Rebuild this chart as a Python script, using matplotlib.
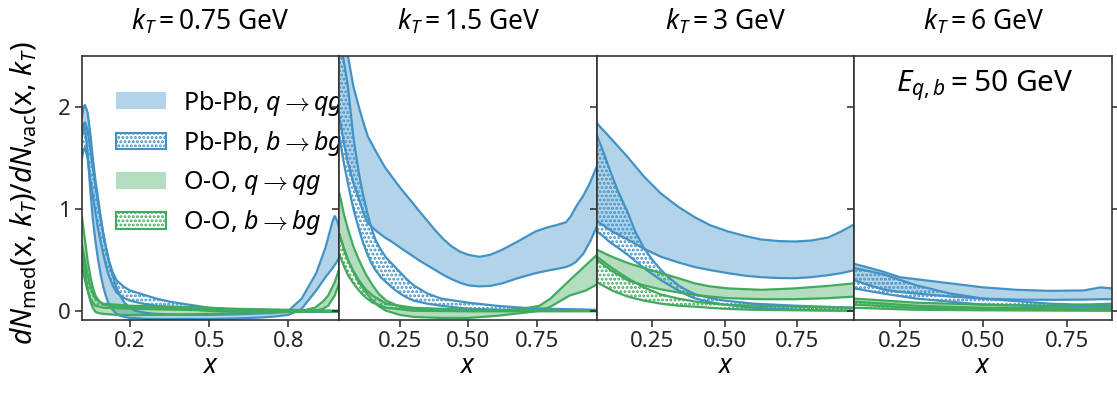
import matplotlib
matplotlib.use("Agg")
import matplotlib.pyplot as plt
from matplotlib.patches import Patch

plt.rcParams['font.family'] = ['Noto Sans', 'DejaVu Sans']
plt.rcParams['mathtext.fontset'] = 'custom'
plt.rcParams['mathtext.rm'] = 'Noto Sans'
plt.rcParams['mathtext.it'] = 'Noto Sans:italic'
plt.rcParams['mathtext.bf'] = 'Noto Sans:bold'
plt.rcParams['hatch.linewidth'] = 1.4

BLUE = '#4292c6'
GREEN = '#41ab5d'

titles = ['$k_T = 0.75$ GeV', '$k_T = 1.5$ GeV', '$k_T = 3$ GeV', '$k_T = 6$ GeV']
xlims = [(0.019, 0.993), (0.029, 0.97), (0.058, 0.95), (0.115, 0.884)]
xticks = [[0.2, 0.5, 0.8], [0.25, 0.50, 0.75], [0.25, 0.50, 0.75], [0.25, 0.50, 0.75]]
xticklabels = [['0.2', '0.5', '0.8'], ['0.25', '0.50', '0.75'],
               ['0.25', '0.50', '0.75'], ['0.25', '0.50', '0.75']]

# ---------------- kT = 0.75 GeV ----------------
p1_pbq_x = [0.019, 0.025, 0.03, 0.04, 0.05, 0.06, 0.07, 0.08, 0.09, 0.10, 0.11, 0.12, 0.135, 0.15, 0.165, 0.18, 0.20, 0.22, 0.26, 0.30, 0.40, 0.50, 0.60, 0.70, 0.75, 0.80, 0.85, 0.905, 0.94, 0.967, 0.975, 0.985, 0.993]
p1_pbq_hi = [1.90, 2.00, 2.02, 1.95, 1.75, 1.50, 1.28, 1.10, 0.92, 0.75, 0.62, 0.50, 0.35, 0.22, 0.14, 0.08, 0.03, 0.00, -0.02, -0.03, -0.04, -0.04, -0.035, -0.025, -0.02, 0.00, 0.12, 0.37, 0.62, 0.88, 0.93, 0.88, 0.80]
p1_pbq_lo = [1.70, 1.80, 1.80, 1.55, 1.20, 0.90, 0.68, 0.50, 0.35, 0.23, 0.14, 0.07, 0.01, -0.03, -0.05, -0.06, -0.07, -0.07, -0.08, -0.08, -0.08, -0.08, -0.075, -0.065, -0.055, -0.04, 0.02, 0.20, 0.33, 0.42, 0.45, 0.49, 0.53]
p1_pbb_x = [0.019, 0.025, 0.03, 0.04, 0.05, 0.065, 0.08, 0.09, 0.10, 0.11, 0.12, 0.135, 0.15, 0.175, 0.20, 0.25, 0.30, 0.35, 0.40, 0.50, 0.60, 0.70, 0.80, 0.90, 0.993]
p1_pbb_hi = [1.75, 1.83, 1.85, 1.78, 1.60, 1.32, 1.05, 0.90, 0.75, 0.62, 0.50, 0.38, 0.30, 0.24, 0.20, 0.16, 0.12, 0.09, 0.07, 0.03, 0.01, 0.00, 0.00, 0.00, 0.00]
p1_pbb_lo = [1.50, 1.58, 1.60, 1.50, 1.30, 1.05, 0.80, 0.67, 0.55, 0.44, 0.35, 0.25, 0.18, 0.13, 0.10, 0.07, 0.05, 0.03, 0.02, 0.00, -0.01, -0.01, -0.01, -0.01, -0.01]
p1_ooq_x = [0.019, 0.025, 0.03, 0.04, 0.05, 0.06, 0.07, 0.085, 0.10, 0.15, 0.30, 0.50, 0.70, 0.85, 0.90, 0.93, 0.95, 0.975, 0.993]
p1_ooq_hi = [0.92, 0.80, 0.70, 0.50, 0.35, 0.23, 0.15, 0.09, 0.06, 0.04, 0.03, 0.02, 0.01, 0.00, 0.03, 0.09, 0.15, 0.28, 0.42]
p1_ooq_lo = [0.60, 0.48, 0.40, 0.22, 0.10, 0.03, -0.01, -0.025, -0.03, -0.04, -0.04, -0.03, -0.02, -0.01, 0.00, 0.02, 0.05, 0.15, 0.28]
p1_oob_x = [0.019, 0.025, 0.03, 0.04, 0.05, 0.06, 0.07, 0.085, 0.10, 0.20, 0.40, 0.60, 0.80, 0.993]
p1_oob_hi = [0.65, 0.57, 0.50, 0.36, 0.25, 0.17, 0.12, 0.09, 0.07, 0.05, 0.04, 0.02, 0.01, 0.00]
p1_oob_lo = [0.45, 0.37, 0.30, 0.20, 0.12, 0.08, 0.05, 0.04, 0.03, 0.02, 0.01, 0.00, -0.005, -0.01]

# ---------------- kT = 1.5 GeV ----------------
p2_pbq_x = [0.029, 0.045, 0.06, 0.08, 0.10, 0.115, 0.133, 0.165, 0.195, 0.225, 0.256, 0.287, 0.317, 0.348, 0.379, 0.41, 0.44, 0.47, 0.50, 0.54, 0.58, 0.624, 0.68, 0.746, 0.79, 0.82, 0.857, 0.875, 0.893, 0.92, 0.945, 0.97]
p2_pbq_hi = [3.10, 2.75, 2.50, 2.20, 2.00, 1.86, 1.71, 1.55, 1.41, 1.30, 1.19, 1.09, 0.99, 0.89, 0.79, 0.70, 0.63, 0.58, 0.55, 0.53, 0.55, 0.60, 0.68, 0.78, 0.82, 0.84, 0.87, 0.93, 1.02, 1.13, 1.26, 1.42]
p2_pbq_lo = [1.90, 1.65, 1.45, 1.25, 1.10, 0.97, 0.86, 0.78, 0.72, 0.67, 0.61, 0.555, 0.50, 0.45, 0.40, 0.35, 0.31, 0.275, 0.25, 0.24, 0.245, 0.27, 0.32, 0.37, 0.395, 0.41, 0.43, 0.45, 0.48, 0.56, 0.68, 0.83]
p2_pbb_x = [0.029, 0.045, 0.06, 0.07, 0.08, 0.09, 0.10, 0.115, 0.13, 0.145, 0.16, 0.18, 0.20, 0.225, 0.25, 0.275, 0.30, 0.35, 0.40, 0.50, 0.60, 0.70, 0.80, 0.97]
p2_pbb_hi = [2.70, 2.45, 2.20, 1.95, 1.70, 1.52, 1.35, 1.14, 0.97, 0.82, 0.70, 0.60, 0.52, 0.45, 0.38, 0.31, 0.25, 0.17, 0.12, 0.08, 0.05, 0.03, 0.02, 0.01]
p2_pbb_lo = [1.70, 1.45, 1.25, 1.12, 1.00, 0.90, 0.80, 0.67, 0.56, 0.47, 0.40, 0.33, 0.28, 0.22, 0.17, 0.13, 0.10, 0.07, 0.05, 0.02, 0.01, 0.00, 0.00, 0.00]
p2_ooq_x = [0.029, 0.045, 0.06, 0.08, 0.10, 0.125, 0.15, 0.175, 0.20, 0.25, 0.30, 0.40, 0.50, 0.60, 0.70, 0.76, 0.80, 0.87, 0.93, 0.97]
p2_ooq_hi = [1.15, 0.95, 0.80, 0.63, 0.50, 0.36, 0.25, 0.16, 0.10, 0.04, 0.02, 0.00, 0.00, 0.00, 0.02, 0.05, 0.12, 0.30, 0.45, 0.55]
p2_ooq_lo = [0.75, 0.60, 0.50, 0.38, 0.28, 0.18, 0.10, 0.04, 0.00, -0.04, -0.06, -0.07, -0.07, -0.05, -0.02, 0.00, 0.04, 0.15, 0.20, 0.26]
p2_oob_x = [0.029, 0.045, 0.06, 0.08, 0.10, 0.125, 0.15, 0.20, 0.30, 0.50, 0.70, 0.97]
p2_oob_hi = [0.75, 0.62, 0.50, 0.39, 0.30, 0.21, 0.15, 0.07, 0.03, 0.01, 0.005, 0.00]
p2_oob_lo = [0.55, 0.44, 0.35, 0.27, 0.20, 0.13, 0.08, 0.03, 0.00, -0.005, -0.005, -0.005]

# ---------------- kT = 3 GeV ----------------
p3_pbq_x = [0.058, 0.11, 0.164, 0.22, 0.28, 0.34, 0.396, 0.45, 0.511, 0.57, 0.627, 0.685, 0.743, 0.80, 0.859, 0.905, 0.95]
p3_pbq_hi = [1.84, 1.68, 1.51, 1.32, 1.15, 1.02, 0.92, 0.84, 0.78, 0.735, 0.70, 0.685, 0.68, 0.69, 0.72, 0.78, 0.85]
p3_pbq_lo = [0.88, 0.78, 0.70, 0.61, 0.53, 0.475, 0.43, 0.40, 0.37, 0.345, 0.33, 0.322, 0.32, 0.33, 0.35, 0.37, 0.40]
p3_pbb_x = [0.058, 0.08, 0.10, 0.13, 0.164, 0.19, 0.22, 0.25, 0.28, 0.31, 0.34, 0.37, 0.40, 0.45, 0.50, 0.60, 0.75, 0.95]
p3_pbb_hi = [1.72, 1.56, 1.40, 1.18, 0.97, 0.78, 0.62, 0.50, 0.40, 0.32, 0.25, 0.20, 0.16, 0.125, 0.10, 0.07, 0.05, 0.03]
p3_pbb_lo = [0.78, 0.73, 0.68, 0.62, 0.55, 0.49, 0.42, 0.36, 0.30, 0.25, 0.20, 0.155, 0.12, 0.085, 0.06, 0.03, 0.01, 0.00]
p3_ooq_x = [0.058, 0.11, 0.164, 0.22, 0.28, 0.34, 0.396, 0.45, 0.511, 0.627, 0.743, 0.859, 0.95]
p3_ooq_hi = [0.60, 0.53, 0.47, 0.42, 0.37, 0.32, 0.27, 0.24, 0.22, 0.206, 0.22, 0.245, 0.27]
p3_ooq_lo = [0.50, 0.39, 0.30, 0.25, 0.21, 0.18, 0.157, 0.14, 0.124, 0.114, 0.114, 0.124, 0.14]
p3_oob_x = [0.058, 0.11, 0.164, 0.22, 0.28, 0.34, 0.40, 0.50, 0.60, 0.75, 0.95]
p3_oob_hi = [0.53, 0.42, 0.32, 0.23, 0.16, 0.12, 0.09, 0.06, 0.05, 0.04, 0.03]
p3_oob_lo = [0.28, 0.20, 0.14, 0.10, 0.07, 0.05, 0.04, 0.02, 0.01, 0.005, 0.00]

# ---------------- kT = 6 GeV ----------------
p4_pbq_x = [0.115, 0.15, 0.20, 0.25, 0.30, 0.40, 0.50, 0.60, 0.70, 0.80, 0.85, 0.884]
p4_pbq_hi = [0.46, 0.43, 0.385, 0.33, 0.31, 0.27, 0.23, 0.206, 0.196, 0.20, 0.23, 0.22]
p4_pbq_lo = [0.30, 0.26, 0.21, 0.185, 0.17, 0.14, 0.12, 0.11, 0.108, 0.11, 0.114, 0.114]
p4_pbb_x = [0.115, 0.20, 0.30, 0.40, 0.50, 0.70, 0.884]
p4_pbb_hi = [0.42, 0.36, 0.25, 0.17, 0.12, 0.07, 0.05]
p4_pbb_lo = [0.22, 0.17, 0.12, 0.09, 0.06, 0.045, 0.04]
p4_ooq_x = [0.115, 0.30, 0.50, 0.70, 0.884]
p4_ooq_hi = [0.12, 0.08, 0.06, 0.05, 0.07]
p4_ooq_lo = [0.06, 0.03, 0.02, 0.02, 0.02]
p4_oob_x = [0.115, 0.30, 0.50, 0.884]
p4_oob_hi = [0.09, 0.05, 0.03, 0.02]
p4_oob_lo = [0.03, 0.01, 0.005, 0.00]

panels = [
    [(p1_pbq_x, p1_pbq_lo, p1_pbq_hi), (p1_pbb_x, p1_pbb_lo, p1_pbb_hi),
     (p1_ooq_x, p1_ooq_lo, p1_ooq_hi), (p1_oob_x, p1_oob_lo, p1_oob_hi)],
    [(p2_pbq_x, p2_pbq_lo, p2_pbq_hi), (p2_pbb_x, p2_pbb_lo, p2_pbb_hi),
     (p2_ooq_x, p2_ooq_lo, p2_ooq_hi), (p2_oob_x, p2_oob_lo, p2_oob_hi)],
    [(p3_pbq_x, p3_pbq_lo, p3_pbq_hi), (p3_pbb_x, p3_pbb_lo, p3_pbb_hi),
     (p3_ooq_x, p3_ooq_lo, p3_ooq_hi), (p3_oob_x, p3_oob_lo, p3_oob_hi)],
    [(p4_pbq_x, p4_pbq_lo, p4_pbq_hi), (p4_pbb_x, p4_pbb_lo, p4_pbb_hi),
     (p4_ooq_x, p4_ooq_lo, p4_ooq_hi), (p4_oob_x, p4_oob_lo, p4_oob_hi)],
]
series_colors = [BLUE, BLUE, GREEN, GREEN]
series_hatched = [False, True, False, True]
labels = [r'Pb-Pb, $q\rightarrow qg$', r'Pb-Pb, $b\rightarrow bg$',
          r'O-O, $q\rightarrow qg$', r'O-O, $b\rightarrow bg$']

fig, axes = plt.subplots(1, 4, figsize=(11.17, 3.98), dpi=100, sharey=True)
fig.subplots_adjust(left=0.0734, right=0.9955, bottom=0.196, top=0.859, wspace=0)

for i, ax in enumerate(axes):
    for (x, lo, hi), c, h in zip(panels[i], series_colors, series_hatched):
        if h:
            ax.fill_between(x, lo, hi, facecolor='none', edgecolor=c, hatch='....', linewidth=0)
        else:
            ax.fill_between(x, lo, hi, color=c, alpha=0.4, linewidth=0)
        ax.plot(x, lo, color=c, lw=1.6)
        ax.plot(x, hi, color=c, lw=1.6)
    ax.set_xlim(*xlims[i])
    ax.set_ylim(-0.09, 2.5)
    ax.set_xticks(xticks[i])
    ax.set_xticklabels(xticklabels[i])
    ax.set_yticks([0, 1, 2])
    ax.tick_params(direction='out', length=5, width=1.1, labelsize=16, colors='#262626',
                   left=True, right=True, pad=3)
    if i > 0:
        ax.tick_params(labelleft=False)
    for s in ax.spines.values():
        s.set_color('#333333')
        s.set_linewidth(1.2)
    ax.set_xlabel('$x$', fontsize=19, labelpad=0)
    ax.set_title(titles[i], fontsize=19, pad=19)

axes[0].set_ylabel(r'$dN_{\mathrm{med}}$(x, $k_T$)/$dN_{\mathrm{vac}}$(x, $k_T$)', fontsize=20.5)
axes[0].yaxis.set_label_coords(-0.165, 0.48)
axes[3].text(0.506, 0.89, r'$E_{q,b} = 50$ GeV', transform=axes[3].transAxes,
             fontsize=21.5, ha='center', va='center')

handles = []
for c, h in zip(series_colors, series_hatched):
    if h:
        handles.append(Patch(facecolor='white', edgecolor=c, hatch='....', linewidth=1.5))
    else:
        handles.append(Patch(facecolor=c, alpha=0.4, linewidth=0))
axes[0].legend(handles, labels, loc='upper left', bbox_to_anchor=(0.095, 0.915), frameon=False,
               fontsize=18, handlelength=2.0, handleheight=0.65, labelspacing=0.45, handletextpad=0.65,
               borderaxespad=0)

fig.savefig('out.png', dpi=100)
